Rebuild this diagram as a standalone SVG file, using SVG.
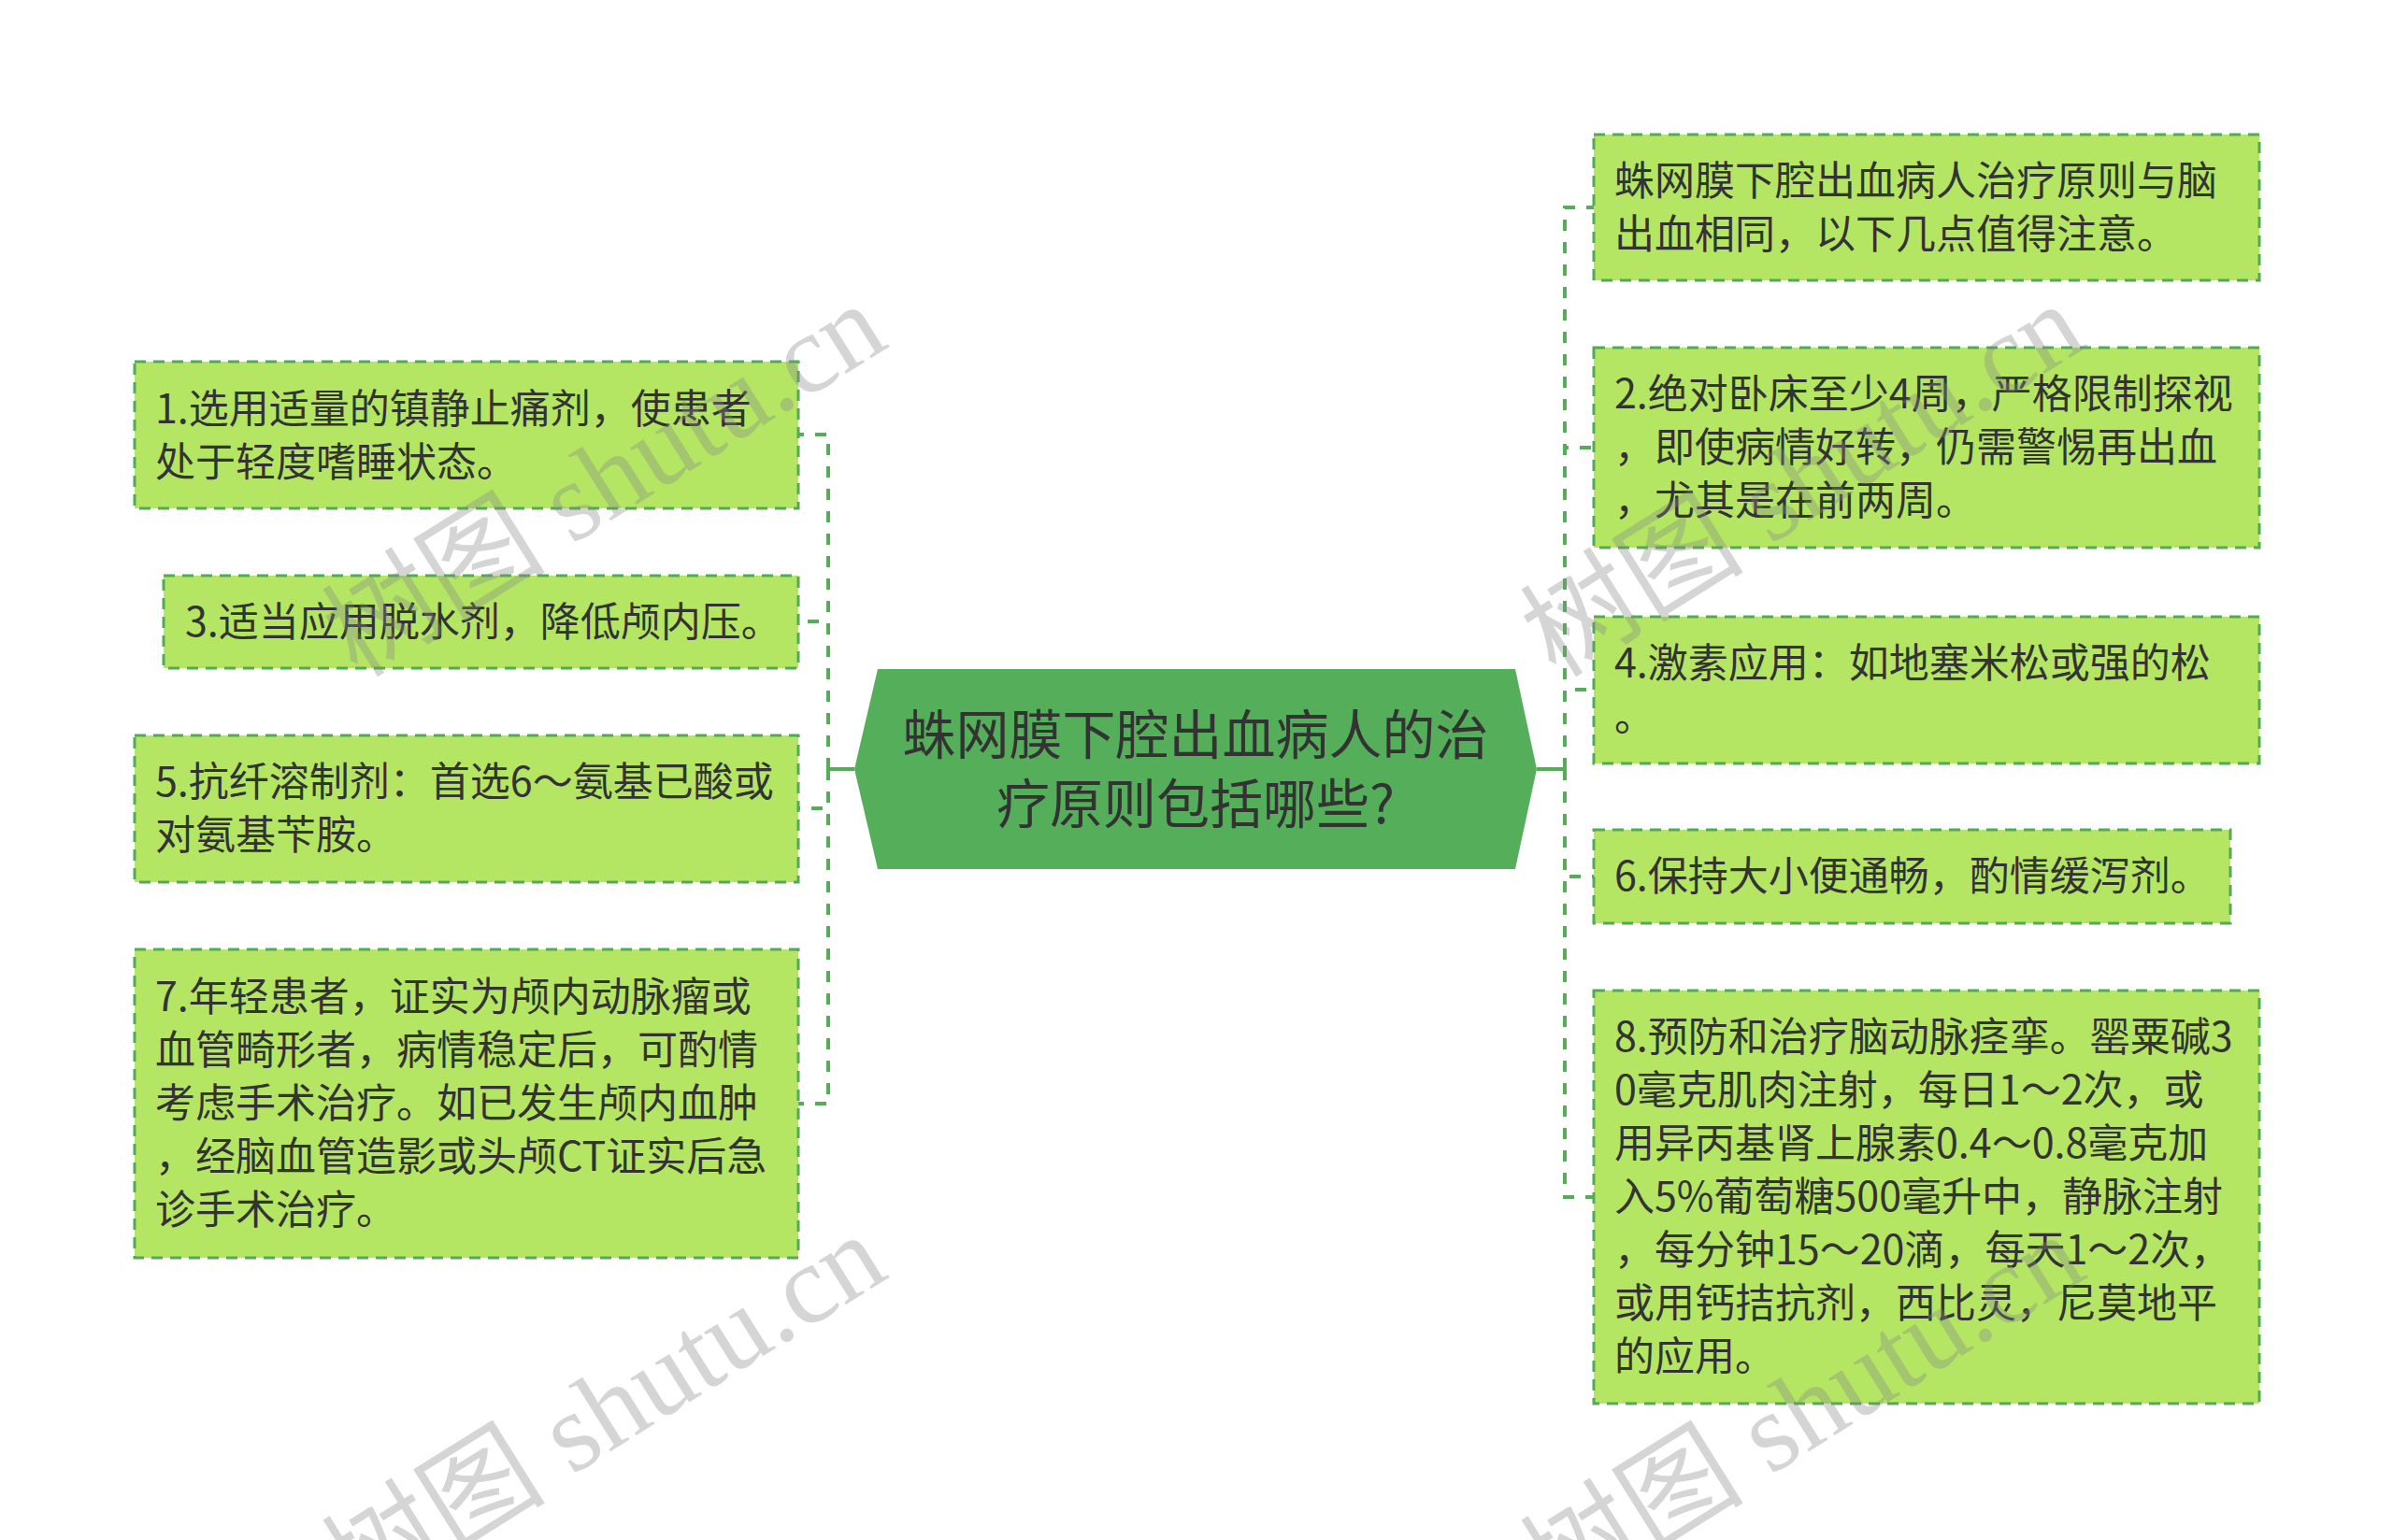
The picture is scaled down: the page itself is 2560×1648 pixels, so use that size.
<svg xmlns="http://www.w3.org/2000/svg" width="2560" height="1648" viewBox="0 0 2560 1648">
<style>
.node{fill:#b4e664;stroke:#52aa56;stroke-width:3;stroke-dasharray:12 8}
.t{font-family:"Noto Sans CJK SC","Noto Sans",sans-serif;font-size:43px;fill:#333}
.ct{font-family:"Noto Sans CJK SC","Noto Sans",sans-serif;font-size:57px;fill:#333;text-anchor:middle}
.c{fill:none;stroke:#55ad59;stroke-width:4;stroke-dasharray:12 12}
.cs{fill:none;stroke:#55ad59;stroke-width:4}
.wm{font-family:"Liberation Serif","Noto Sans CJK SC",serif;font-size:120px;fill:#888;fill-opacity:0.35;text-anchor:middle}
</style>
<rect width="2560" height="1648" fill="#ffffff"/>
<g id="connectors">
<path class="cs" d="M914 823H886"/>
<path class="c" d="M886 823V465H854"/>
<path class="c" d="M886 823V665H854"/>
<path class="c" d="M886 823V865H854"/>
<path class="c" d="M886 823V1181H854"/>
<path class="cs" d="M1644 823H1674"/>
<path class="c" d="M1674 823V222H1705"/>
<path class="c" d="M1674 823V479H1705"/>
<path class="c" d="M1674 823V738H1705"/>
<path class="c" d="M1674 823V938H1705"/>
<path class="c" d="M1674 823V1281H1705"/>
</g>
<g id="center">
<polygon points="914,823 939,716 1621,716 1644,823 1621,930 939,930" fill="#55ae5a"/>
<text class="ct" x="1279" y="807">蛛网膜下腔出血病人的治</text>
<text class="ct" x="1279" y="881">疗原则包括哪些?</text>
</g>
<g id="n1">
<rect class="node" x="144" y="387" width="710" height="157"/>
<text class="t" x="166" y="453">1.选用适量的镇静止痛剂，使患者</text>
<text class="t" x="166" y="510">处于轻度嗜睡状态。</text>
</g>
<g id="n3">
<rect class="node" x="175" y="616" width="679" height="99"/>
<text class="t" x="198" y="681">3.适当应用脱水剂，降低颅内压。</text>
</g>
<g id="n5">
<rect class="node" x="144" y="787" width="710" height="157"/>
<text class="t" x="166" y="852">5.抗纤溶制剂：首选6～氨基已酸或</text>
<text class="t" x="166" y="909">对氨基苄胺。</text>
</g>
<g id="n7">
<rect class="node" x="144" y="1016" width="710" height="330"/>
<text class="t" x="166" y="1082">7.年轻患者，证实为颅内动脉瘤或</text>
<text class="t" x="166" y="1139">血管畸形者，病情稳定后，可酌情</text>
<text class="t" x="166" y="1196">考虑手术治疗。如已发生颅内血肿</text>
<text class="t" x="166" y="1253">，经脑血管造影或头颅CT证实后急</text>
<text class="t" x="166" y="1310">诊手术治疗。</text>
</g>
<g id="r0">
<rect class="node" x="1705" y="144" width="712" height="156"/>
<text class="t" x="1727" y="209">蛛网膜下腔出血病人治疗原则与脑</text>
<text class="t" x="1727" y="266">出血相同，以下几点值得注意。</text>
</g>
<g id="r2">
<rect class="node" x="1705" y="372" width="712" height="214"/>
<text class="t" x="1727" y="437">2.绝对卧床至少4周，严格限制探视</text>
<text class="t" x="1727" y="494">，即使病情好转，仍需警惕再出血</text>
<text class="t" x="1727" y="551">，尤其是在前两周。</text>
</g>
<g id="r4">
<rect class="node" x="1705" y="660" width="712" height="157"/>
<text class="t" x="1727" y="725">4.激素应用：如地塞米松或强的松</text>
<text class="t" x="1727" y="782">。</text>
</g>
<g id="r6">
<rect class="node" x="1705" y="888" width="681" height="100"/>
<text class="t" x="1727" y="953">6.保持大小便通畅，酌情缓泻剂。</text>
</g>
<g id="r8">
<rect class="node" x="1705" y="1060" width="712" height="442"/>
<text class="t" x="1727" y="1125">8.预防和治疗脑动脉痉挛。罂粟碱3</text>
<text class="t" x="1727" y="1182">0毫克肌肉注射，每日1～2次，或</text>
<text class="t" x="1727" y="1239">用异丙基肾上腺素0.4～0.8毫克加</text>
<text class="t" x="1727" y="1296">入5%葡萄糖500毫升中，静脉注射</text>
<text class="t" x="1727" y="1353">，每分钟15～20滴，每天1～2次，</text>
<text class="t" x="1727" y="1410">或用钙拮抗剂，西比灵，尼莫地平</text>
<text class="t" x="1727" y="1467">的应用。</text>
</g>
<g id="watermarks">
<text class="wm" transform="translate(668 548) rotate(-32)">树图 shutu.cn</text>
<text class="wm" transform="translate(668 1544) rotate(-32)">树图 shutu.cn</text>
<text class="wm" transform="translate(1950 548) rotate(-32)">树图 shutu.cn</text>
<text class="wm" transform="translate(1950 1544) rotate(-32)">树图 shutu.cn</text>
</g>
</svg>
